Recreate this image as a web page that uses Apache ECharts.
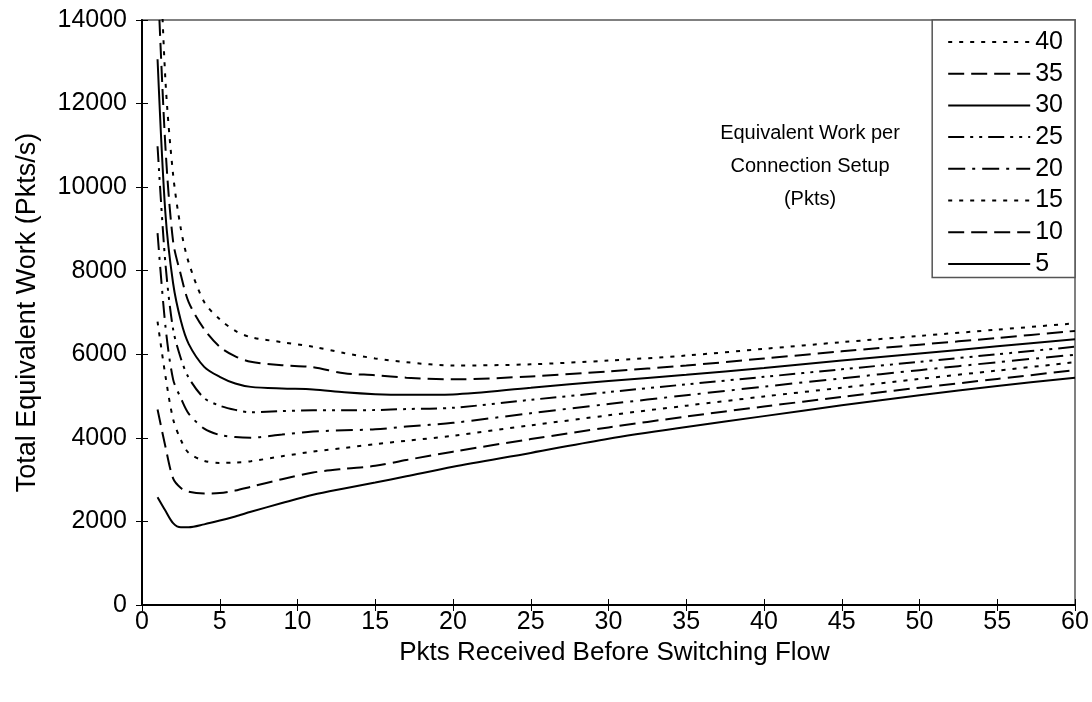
<!DOCTYPE html>
<html>
<head>
<meta charset="utf-8">
<script src="https://cdn.jsdelivr.net/npm/echarts@6/dist/echarts.min.js"></script>
<style>
html,body{margin:0;padding:0;background:#fff;}
#chart{width:1092px;height:702px;}
</style>
</head>
<body>
<div id="chart"></div>
<script>
// x positions (Pkts Received Before Switching Flow)
var xs = [1, 1.5, 2, 2.5, 3, 4, 5, 6, 7, 9, 11, 13, 15, 17, 20, 25, 30, 35, 40, 45, 50, 55, 60];
// Total Equivalent Work (Pkts/s) per equivalent work per connection setup
var s40 = [17200, 12600, 10300, 9000, 8200, 7250, 6840, 6560, 6410, 6290, 6180, 6030, 5900, 5810, 5730, 5760, 5850, 5970, 6130, 6290, 6440, 6590, 6740];
var s35 = [15100, 11000, 8700, 7900, 7250, 6600, 6180, 5950, 5820, 5740, 5690, 5545, 5500, 5440, 5400, 5470, 5590, 5730, 5900, 6070, 6230, 6390, 6560];
var s30 = [13060, 9400, 7700, 6800, 6250, 5700, 5460, 5300, 5220, 5180, 5160, 5090, 5045, 5030, 5040, 5200, 5360, 5510, 5670, 5850, 6020, 6190, 6360];
var s25 = [10980, 8200, 6600, 5900, 5440, 4950, 4770, 4670, 4610, 4640, 4660, 4660, 4665, 4690, 4720, 4910, 5095, 5280, 5460, 5640, 5820, 6000, 6180];
var s20 = [8900, 6700, 5400, 4950, 4580, 4220, 4070, 4020, 4005, 4080, 4150, 4180, 4205, 4270, 4360, 4590, 4810, 5020, 5225, 5425, 5620, 5810, 5990];
var s15 = [6780, 5500, 4450, 3950, 3640, 3450, 3400, 3410, 3440, 3560, 3670, 3760, 3850, 3930, 4050, 4300, 4540, 4770, 4990, 5200, 5410, 5610, 5810];
var s10 = [4680, 3800, 3030, 2800, 2710, 2670, 2680, 2740, 2830, 3010, 3170, 3260, 3330, 3470, 3670, 3970, 4250, 4510, 4750, 4980, 5200, 5410, 5620];
var s5  = [2580, 2260, 1960, 1860, 1860, 1930, 2020, 2120, 2230, 2440, 2640, 2790, 2930, 3080, 3310, 3640, 3980, 4260, 4520, 4780, 5020, 5240, 5440];

var seriesNames = ['40', '35', '30', '25', '20', '15', '10', '5'];
var seriesData = [s40, s35, s30, s25, s20, s15, s10, s5];

var xTicks = {min: 0, max: 60, interval: 5};
var yTicks = {min: 0, max: 14000, interval: 2000};

var FONT = 'Liberation Sans, Arial, sans-serif';
var dotted = [4, 7];
var longDash = [16, 7];
var dashDot = [17, 7, 3, 7];
var dashDotDot = [16, 6, 3, 6, 3, 6];
var styles = {
  '40': dotted, '35': longDash, '30': 'solid', '25': dashDotDot,
  '20': dashDot, '15': dotted, '10': longDash, '5': 'solid'
};

function pairs(arr) {
  return xs.map(function (x, i) { return [x, arr[i]]; });
}

var series = seriesNames.map(function (name, i) {
  return {
    name: name,
    type: 'line',
    xAxisIndex: 0,
    yAxisIndex: 0,
    data: pairs(seriesData[i]),
    symbol: 'none',
    smooth: 0.3,
    clip: true,
    lineStyle: {color: '#000', width: 2, type: styles[name]},
    itemStyle: {color: '#000'}
  };
});

var chart = echarts.init(document.getElementById('chart'), null, {renderer: 'canvas'});
chart.setOption({
  animation: false,
  backgroundColor: '#fff',
  textStyle: {fontFamily: FONT},
  grid: {
    left: 142, right: 17, top: 20, bottom: 97,
    show: true, borderColor: '#808080', borderWidth: 2, backgroundColor: 'transparent'
  },
  xAxis: [{
    type: 'value', min: xTicks.min, max: xTicks.max, interval: xTicks.interval,
    name: 'Pkts Received Before Switching Flow', nameLocation: 'middle', nameGap: 33,
    nameTextStyle: {color: '#000', fontSize: 26, fontFamily: FONT, padding: [0, 0, 0, 12]},
    axisLine: {show: true, lineStyle: {color: '#000', width: 2}},
    axisTick: {show: true, length: 6, lineStyle: {color: '#000', width: 1}},
    axisLabel: {color: '#000', fontSize: 25, fontFamily: FONT, margin: 5},
    splitLine: {show: false}
  }, {
    type: 'value', min: xTicks.min, max: xTicks.max, interval: xTicks.interval,
    position: 'bottom', gridIndex: 0,
    axisLine: {show: false},
    axisTick: {show: true, inside: true, length: 6, lineStyle: {color: '#000', width: 1}},
    axisLabel: {show: false}, splitLine: {show: false}
  }],
  yAxis: [{
    type: 'value', min: yTicks.min, max: yTicks.max, interval: yTicks.interval,
    name: 'Total Equivalent Work (Pkts/s)', nameLocation: 'middle', nameGap: 101,
    nameTextStyle: {color: '#000', fontSize: 27, fontFamily: FONT},
    axisLine: {show: true, lineStyle: {color: '#000', width: 2}},
    axisTick: {show: true, length: 6, lineStyle: {color: '#000', width: 1}},
    axisLabel: {color: '#000', fontSize: 25, fontFamily: FONT, margin: 15,
      formatter: function (v) { return String(v); }},
    splitLine: {show: false}
  }, {
    type: 'value', min: yTicks.min, max: yTicks.max, interval: yTicks.interval,
    position: 'left', gridIndex: 0,
    axisLine: {show: false},
    axisTick: {show: true, inside: true, length: 6, lineStyle: {color: '#000', width: 1}},
    axisLabel: {show: false}, splitLine: {show: false}
  }],
  legend: {
    data: seriesNames,
    orient: 'vertical',
    right: 17, top: 20,
    padding: [9.5, 12, 1, 15],
    itemWidth: 82, itemHeight: 12, itemGap: 6.7,
    backgroundColor: '#fff',
    borderColor: '#555', borderWidth: 1.5,
    textStyle: {color: '#000', fontSize: 25, fontFamily: FONT, lineHeight: 25},
    itemStyle: {opacity: 0}
  },
  graphic: [{
    type: 'text',
    x: 810, y: 117,
    style: {
      text: 'Equivalent Work per\nConnection Setup\n(Pkts)',
      fill: '#000', font: '20px ' + FONT,
      textAlign: 'center', textVerticalAlign: 'top', lineHeight: 33
    }
  }],
  series: series
});
</script>
</body>
</html>
